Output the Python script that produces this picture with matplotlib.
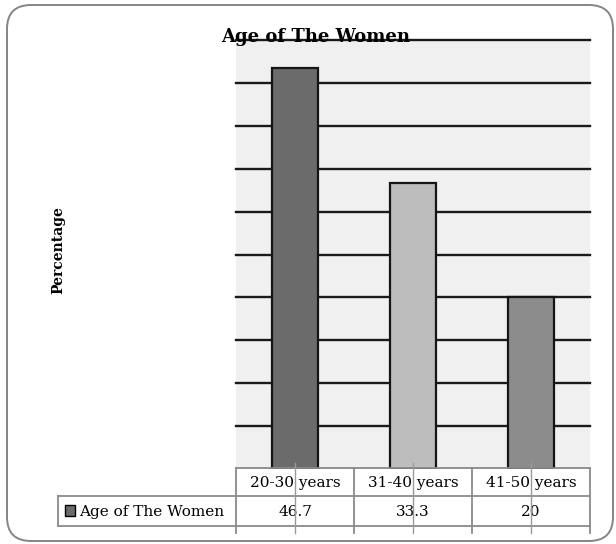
import matplotlib
matplotlib.use("Agg")
import matplotlib.pyplot as plt
from matplotlib.patches import FancyBboxPatch, Rectangle
from matplotlib.lines import Line2D
from matplotlib.transforms import blended_transform_factory

categories = ["20-30 years", "31-40 years", "41-50 years"]
values = [46.7, 33.3, 20]
series_name = "Age of The Women"
bar_colors = ["#6b6b6b", "#bdbdbd", "#8c8c8c"]

W, H = 616, 544
fig = plt.figure(figsize=(W / 100, H / 100), dpi=100)
plt.rcParams["font.family"] = ["DejaVu Serif"]


def fx(px):
    return px / W


def fy(py):
    return 1 - py / H


# outer rounded frame (inches)
frame = FancyBboxPatch((0.07, 0.03), 6.06, 5.36,
                       boxstyle="round,pad=0,rounding_size=0.24",
                       transform=fig.dpi_scale_trans, fill=False,
                       edgecolor="#858585", linewidth=1.4)
fig.add_artist(frame)

ax = fig.add_axes([fx(236), fy(469), fx(590) - fx(236), fy(40) - fy(469)])
ax.set_facecolor("#f0f0f0")
x = list(range(len(categories)))
ax.bar(x, values, width=0.39, color=bar_colors, edgecolor="#151515",
       linewidth=1.6, zorder=3)
ax.set_xlim(-0.5, len(categories) - 0.5)
ax.set_ylim(0, 50)
ax.set_yticks(range(5, 51, 5))
ax.yaxis.grid(True, color="#1a1a1a", linewidth=1.7, zorder=0)
for gl in ax.get_ygridlines():
    gl.set_clip_on(False)
ax.set_axisbelow(True)
ax.tick_params(left=False, bottom=False, labelleft=False, labelbottom=False)
for s in ax.spines.values():
    s.set_visible(False)

fig.text(fx(316), fy(37), "Age of The Women", ha="center", va="center",
         fontsize=13, fontweight="bold", zorder=5)
fig.text(fx(58), fy(250), "Percentage", rotation=90, ha="center",
         va="center", fontsize=10, fontweight="bold")

# data table under the axis
tr = blended_transform_factory(ax.transData, fig.transFigure)
grey = "#8a8a8a"
row_top, row_mid, row_bot, line_end = 468, 496, 526, 533
left, right = -0.5, len(categories) - 0.5

for yy in (row_top, row_mid, row_bot):
    fig.add_artist(Line2D([left, right], [fy(yy), fy(yy)], transform=tr,
                          color=grey, linewidth=1.3))
for b in range(len(categories) + 1):
    xb = b - 0.5
    fig.add_artist(Line2D([xb, xb], [fy(row_top), fy(line_end)], transform=tr,
                          color=grey, linewidth=1.3))
for i in x:
    fig.add_artist(Line2D([i, i], [fy(463), fy(line_end)], transform=tr,
                          color="#9a9a9a", linewidth=1.0, zorder=4))
    fig.text(i, fy((row_top + row_mid) / 2 + 1), categories[i], transform=tr,
             ha="center", va="center", fontsize=11)
    fig.text(i, fy((row_mid + row_bot) / 2 + 1), f"{values[i]:g}",
             transform=tr, ha="center", va="center", fontsize=11)

# row label cell with legend key
fig.add_artist(Line2D([fx(58), fx(236)], [fy(row_mid), fy(row_mid)],
                      color=grey, linewidth=1.3))
fig.add_artist(Line2D([fx(58), fx(236)], [fy(row_bot), fy(row_bot)],
                      color=grey, linewidth=1.3))
fig.add_artist(Line2D([fx(58), fx(58)], [fy(row_mid), fy(row_bot)],
                      color=grey, linewidth=1.3))
fig.add_artist(Rectangle((fx(65), fy(516)), fx(10), fy(505) - fy(516),
                         facecolor=bar_colors[0], edgecolor="black",
                         linewidth=1.0))
fig.text(fx(79), fy((row_mid + row_bot) / 2 + 1), series_name,
         ha="left", va="center", fontsize=11)

fig.savefig("out.png", dpi=100)
